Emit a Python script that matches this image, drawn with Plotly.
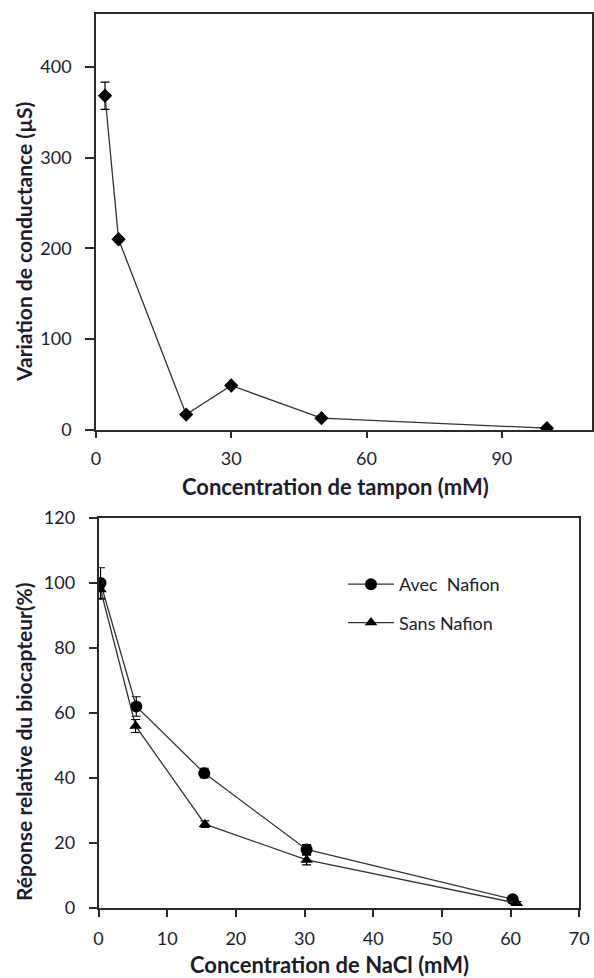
import plotly.graph_objects as go

# ---- Top panel data ----
tampon_x = [2, 5, 20, 30, 50, 100]
conductance = [368, 210, 17, 49, 13, 2]
conductance_err = [15, 3, 2, 2, 2, 1]

# ---- Bottom panel data ----
avec_x = [0.3, 5.5, 15.4, 30.3, 60.3]
avec_y = [100, 62, 41.5, 18, 2.7]
avec_err = [4.7, 3, 1.5, 1.5, 1]

sans_x = [0.3, 5.4, 15.5, 30.3, 60.9]
sans_y = [98, 56, 25.8, 14.8, 1.5]
sans_err = [3, 2, 1, 1.5, 0.5]

top_yticks = [0, 100, 200, 300, 400]
top_xticks = [0, 30, 60, 90]
bot_yticks = [0, 20, 40, 60, 80, 100, 120]
bot_xticks = [0, 10, 20, 30, 40, 50, 60, 70]

W, H = 594, 978
FONT = "Lato"
TXT = "#1c1c2c"
LINE = "#333333"
AX = "#2a2a2a"

fig = go.Figure()

fig.add_trace(go.Scatter(
    x=tampon_x, y=conductance, mode="lines+markers",
    line=dict(color=LINE, width=1.3),
    marker=dict(symbol="diamond", size=11, color="black"),
    error_y=dict(type="data", array=conductance_err, color="black", thickness=1.2, width=4.5),
    xaxis="x", yaxis="y", showlegend=False))

fig.add_trace(go.Scatter(
    x=avec_x, y=avec_y, mode="lines+markers", name="Avec  Nafion",
    line=dict(color=LINE, width=1.3),
    marker=dict(symbol="circle", size=12, color="black"),
    error_y=dict(type="data", array=avec_err, color="black", thickness=1.2, width=4.5),
    xaxis="x2", yaxis="y2", legendgroup="a"))

fig.add_trace(go.Scatter(
    x=sans_x, y=sans_y, mode="lines+markers", name="Sans Nafion",
    line=dict(color=LINE, width=1.3),
    marker=dict(symbol="triangle-up", size=11, color="black"),
    error_y=dict(type="data", array=sans_err, color="black", thickness=1.2, width=4.5),
    xaxis="x2", yaxis="y2", legendgroup="b"))

def px_x(p):
    return p / W

def px_y(p):
    return 1 - p / H

axis_common = dict(
    showline=True, linecolor=AX, linewidth=1.5, mirror=True,
    showgrid=False, zeroline=False, ticks="outside", tickcolor=AX,
    tickwidth=1.5, tickfont=dict(family=FONT, size=18, color=TXT),
    fixedrange=True, automargin=False,
)

fig.update_layout(
    template="none",
    width=W, height=H,
    margin=dict(l=0, r=0, t=0, b=0, pad=0),
    paper_bgcolor="white", plot_bgcolor="white",
    xaxis=dict(domain=[px_x(96), px_x(592)], anchor="y", range=[0, 110],
               tickvals=top_xticks, ticklen=6, ticklabelstandoff=6, **axis_common),
    yaxis=dict(domain=[px_y(430), px_y(14)], anchor="x", range=[0, 458],
               tickvals=top_yticks, ticklen=9, ticklabelstandoff=10, **axis_common),
    xaxis2=dict(domain=[px_x(98.5), px_x(579.3)], anchor="y2", range=[0, 70],
                tickvals=bot_xticks, ticklen=7, ticklabelstandoff=7, **axis_common),
    yaxis2=dict(domain=[px_y(908), px_y(518)], anchor="x2", range=[0, 120],
                tickvals=bot_yticks, ticklen=8, ticklabelstandoff=10, **axis_common),
    legend=dict(x=px_x(343), y=px_y(566), xanchor="left", yanchor="top",
                font=dict(family=FONT, size=18, color=TXT),
                bgcolor="rgba(0,0,0,0)", borderwidth=0,
                tracegroupgap=12, itemwidth=46),
    showlegend=True,
)

xtitle_font = dict(family=FONT, size=22, color=TXT, weight="bold")
ytitle_font = dict(family=FONT, size=21, color=TXT, weight="bold")
annots = [
    dict(text="Concentration de tampon (mM)", x=px_x(335), y=px_y(486), font=xtitle_font),
    dict(text="Concentration de NaCl (mM)", x=px_x(329), y=px_y(964), font=xtitle_font),
    dict(text="Variation de conductance (µS)", x=px_x(24), y=px_y(242), textangle=-90, font=ytitle_font),
    dict(text="Réponse relative du biocapteur(%)", x=px_x(23), y=px_y(742), textangle=-90, font=ytitle_font),
]
for a in annots:
    fig.add_annotation(xref="paper", yref="paper", showarrow=False,
                       xanchor="center", yanchor="middle", **a)

fig.write_html("out.html", config={"displayModeBar": False},
               post_script="document.body.style.margin='0';document.body.style.padding='0';")
